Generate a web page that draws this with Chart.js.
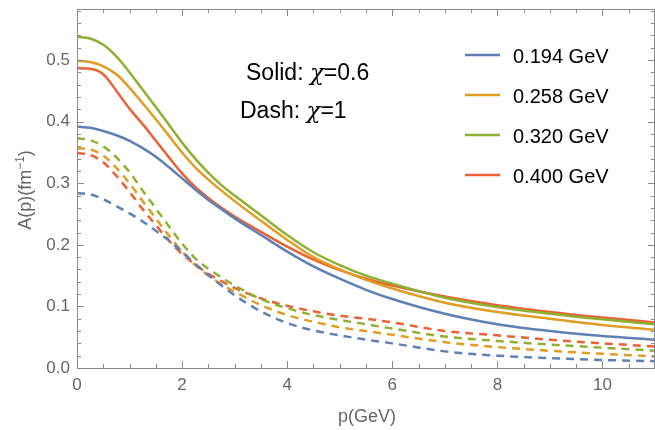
<!DOCTYPE html>
<html>
<head>
<meta charset="utf-8">
<script src="https://cdn.jsdelivr.net/npm/chart.js@4.4.1/dist/chart.umd.min.js"></script>
<style>
  html, body { margin: 0; padding: 0; background: #fff; }
  #wrap { width: 655px; height: 430px; }
</style>
</head>
<body>
<div id="wrap"><canvas id="myChart" width="655" height="430"></canvas></div>
<script>
// momentum grid (GeV)
const pVals = [0, 0.25, 0.5, 0.75, 1, 1.25, 1.5, 1.75, 2, 2.25, 2.5, 2.75, 3, 3.5, 4, 4.5, 5, 5.5, 6, 7, 8, 9, 10, 11];

// solid: chi = 0.6
const solid194 = [0.392, 0.390, 0.385, 0.378, 0.369, 0.357, 0.343, 0.326, 0.308, 0.290, 0.273, 0.258, 0.243, 0.216, 0.189, 0.165, 0.145, 0.127, 0.112, 0.088, 0.071, 0.060, 0.052, 0.046];
const solid258 = [0.499, 0.497, 0.490, 0.477, 0.455, 0.430, 0.404, 0.377, 0.350, 0.326, 0.306, 0.288, 0.271, 0.239, 0.208, 0.180, 0.160, 0.143, 0.129, 0.106, 0.091, 0.080, 0.070, 0.062];
const solid320 = [0.538, 0.535, 0.525, 0.506, 0.480, 0.452, 0.424, 0.395, 0.366, 0.340, 0.317, 0.297, 0.280, 0.248, 0.216, 0.188, 0.167, 0.150, 0.137, 0.114, 0.099, 0.088, 0.079, 0.071];
const solid400 = [0.487, 0.486, 0.477, 0.450, 0.421, 0.396, 0.369, 0.342, 0.316, 0.294, 0.276, 0.260, 0.246, 0.221, 0.197, 0.176, 0.159, 0.145, 0.134, 0.116, 0.102, 0.091, 0.082, 0.074];

// dashed: chi = 1
const dash194 = [0.284, 0.282, 0.274, 0.263, 0.251, 0.238, 0.223, 0.207, 0.189, 0.169, 0.151, 0.134, 0.118, 0.092, 0.073, 0.061, 0.053, 0.046, 0.040, 0.027, 0.020, 0.016, 0.013, 0.011];
const dash258 = [0.357, 0.355, 0.345, 0.325, 0.300, 0.271, 0.243, 0.215, 0.189, 0.167, 0.150, 0.136, 0.124, 0.102, 0.086, 0.075, 0.066, 0.060, 0.054, 0.042, 0.034, 0.028, 0.023, 0.019];
const dash320 = [0.373, 0.370, 0.360, 0.342, 0.318, 0.288, 0.259, 0.230, 0.202, 0.178, 0.161, 0.147, 0.134, 0.112, 0.097, 0.086, 0.078, 0.071, 0.064, 0.051, 0.044, 0.038, 0.033, 0.028];
const dash400 = [0.349, 0.346, 0.334, 0.312, 0.286, 0.258, 0.232, 0.207, 0.185, 0.168, 0.153, 0.141, 0.130, 0.113, 0.101, 0.092, 0.085, 0.080, 0.074, 0.060, 0.053, 0.046, 0.040, 0.035];

const legendLabels = ['0.194 GeV', '0.258 GeV', '0.320 GeV', '0.400 GeV'];
const colors = ['#5E81B5', '#E19C24', '#8FB032', '#EB6235'];
const xTicks = [0, 2, 4, 6, 8, 10];
const yTicks = [0.0, 0.1, 0.2, 0.3, 0.4, 0.5];

const FONT = '"Liberation Sans", Arial, sans-serif';

function pts(arr) {
  return arr.map((v, i) => ({ x: pVals[i], y: v }));
}

const solids = [solid194, solid258, solid320, solid400];
const dashes = [dash194, dash258, dash320, dash400];
const datasets = [];
dashes.forEach((d, i) => {
  datasets.push({
    label: legendLabels[i] + ' dash',
    data: pts(d),
    borderColor: colors[i],
    borderWidth: 2.5,
    borderDash: [8, 6],
    pointRadius: 0,
    fill: false,
    cubicInterpolationMode: 'monotone'
  });
});
solids.forEach((d, i) => {
  datasets.push({
    label: legendLabels[i],
    data: pts(d),
    borderColor: colors[i],
    borderWidth: 2.5,
    pointRadius: 0,
    fill: false,
    cubicInterpolationMode: 'monotone'
  });
});

// 依序畫出不同字型的文字片段
function drawRuns(ctx, runs, x, y) {
  runs.forEach(r => {
    ctx.font = r[1];
    ctx.fillText(r[0], x, y + (r[2] || 0));
    x += ctx.measureText(r[0]).width;
  });
}
function runsWidth(ctx, runs) {
  let w = 0;
  runs.forEach(r => { ctx.font = r[1]; w += ctx.measureText(r[0]).width; });
  return w;
}

// 框線與內向刻度、註解、圖例
const framePlugin = {
  id: 'frame',
  afterDraw(chart) {
    const ctx = chart.ctx;
    const xs = chart.scales.x, ys = chart.scales.y;
    const a = chart.chartArea;
    ctx.save();
    ctx.strokeStyle = '#8a8a8a';
    ctx.lineWidth = 1;
    ctx.strokeRect(a.left + 0.5, a.top + 0.5, a.right - a.left - 1, a.bottom - a.top);
    ctx.beginPath();
    for (let v = 0; v <= 11.001; v += 0.5) {
      const px = Math.round(xs.getPixelForValue(v)) + 0.5;
      const len = (Math.abs(v % 2) < 0.01) ? 7 : 4;
      ctx.moveTo(px, a.bottom); ctx.lineTo(px, a.bottom - len);
      ctx.moveTo(px, a.top); ctx.lineTo(px, a.top + len);
    }
    for (let k = 0; k <= 29; k++) {
      const v = k * 0.02;
      if (v > ys.max) break;
      const py = Math.round(ys.getPixelForValue(v)) + 0.5;
      const len = (k % 5 === 0) ? 7 : 4;
      ctx.moveTo(a.left, py); ctx.lineTo(a.left + len, py);
      ctx.moveTo(a.right, py); ctx.lineTo(a.right - len, py);
    }
    ctx.stroke();

    // axis titles
    ctx.fillStyle = '#666';
    ctx.textAlign = 'left';
    ctx.textBaseline = 'alphabetic';
    const xt = [['p(GeV)', '18px ' + FONT]];
    drawRuns(ctx, xt, 367 - runsWidth(ctx, xt) / 2, 422);
    const yt = [['A(p)(fm', '18px ' + FONT], ['\u22121', '12px ' + FONT, -7], [')', '18px ' + FONT]];
    ctx.save();
    ctx.translate(31, 190);
    ctx.rotate(-Math.PI / 2);
    drawRuns(ctx, yt, -runsWidth(ctx, yt) / 2, 0);
    ctx.restore();

    // annotation
    ctx.fillStyle = '#000';
    const big = '23px ' + FONT, chi = 'italic 23px "DejaVu Serif", serif';
    drawRuns(ctx, [['Solid: ', big], ['\u03c7', chi], ['=0.6', big]], 246, 80);
    drawRuns(ctx, [['Dash: ', big], ['\u03c7', chi], ['=1', big]], 240, 118);

    // legend
    legendLabels.forEach((lab, i) => {
      const y = 55 + i * 40;
      ctx.strokeStyle = colors[i];
      ctx.lineWidth = 2.5;
      ctx.beginPath();
      ctx.moveTo(465, y); ctx.lineTo(500, y);
      ctx.stroke();
      ctx.fillStyle = '#000';
      drawRuns(ctx, [[lab, '20px ' + FONT]], 513, y + 8);
    });
    ctx.restore();
  }
};

const config = {
  type: 'line',
  data: { datasets: datasets },
  options: {
    responsive: false,
    animation: false,
    layout: { padding: { top: 9, right: 0, left: 0, bottom: 0 } },
    plugins: { legend: { display: false }, tooltip: { enabled: false } },
    scales: {
      x: {
        type: 'linear',
        min: 0,
        max: 11,
        grid: { display: false, drawTicks: false },
        border: { display: false },
        afterFit: s => { s.height = 62; s.paddingLeft = 0; s.paddingRight = 0; },
        afterBuildTicks: s => { s.ticks = xTicks.map(v => ({ value: v })); },
        ticks: {
          padding: 7,
          color: '#666',
          font: { family: FONT, size: 17 },
          maxRotation: 0,
          callback: v => String(v)
        }
      },
      y: {
        type: 'linear',
        min: 0,
        max: 0.583,
        grid: { display: false, drawTicks: false },
        border: { display: false },
        afterFit: s => { s.width = 77; s.paddingTop = 0; s.paddingBottom = 0; },
        afterBuildTicks: s => { s.ticks = yTicks.map(v => ({ value: v })); },
        ticks: {
          padding: 7,
          color: '#666',
          font: { family: FONT, size: 17 },
          callback: v => v.toFixed(1)
        }
      }
    }
  },
  plugins: [framePlugin]
};

const ctx = document.getElementById('myChart').getContext('2d');
const myChart = new Chart(ctx, config);
</script>
</body>
</html>
